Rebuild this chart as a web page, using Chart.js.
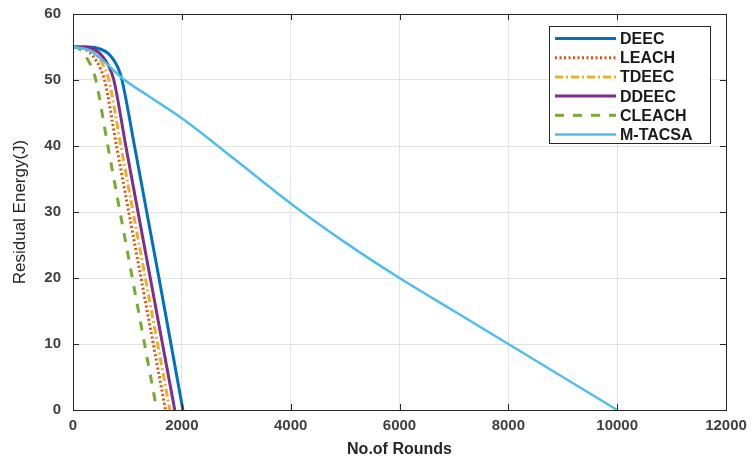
<!DOCTYPE html>
<html lang="en">
<head>
  <meta charset="UTF-8">
  <title>Residual Energy vs Rounds</title>
  <script src="https://cdn.jsdelivr.net/npm/chart.js"></script>
  <style>
    html, body { margin: 0; padding: 0; background: #fff; }
    #wrap { width: 755px; height: 459px; }
  </style>
</head>
<body>
  <div id="wrap"><canvas id="chartEnergy" width="755" height="459"></canvas></div>

  <script>
    // values: [round, residual energy J]
    const labels = ['DEEC', 'LEACH', 'TDEEC', 'DDEEC', 'CLEACH', 'M-TACSA'];
    const deec   = [[0,55],[300,55],[500,54.7],[650,54],[750,53],[830,51.8],[900,50],[1130,40],[1580,20],[2020,0]];
    const leach  = [[0,55],[150,54.9],[300,54.2],[420,53],[500,51.8],[580,50],[800,40],[1250,20],[1700,0]];
    const tdeec  = [[0,55],[200,54.9],[350,54.4],[480,53.3],[570,52],[660,50],[880,40],[1330,20],[1780,0]];
    const ddeec  = [[0,55],[250,55],[400,54.6],[550,53.5],[650,52.2],[750,50],[970,40],[1420,20],[1870,0]];
    const cleach = [[0,55],[100,54.8],[200,54],[290,52.8],[360,51.6],[420,50],[640,40],[1090,20],[1540,0]];
    const mtacsa = [[0,55],[300,54.5],[600,52.6],[900,50.3],[1400,47.5],[2000,44.2],[3000,37.8],[4000,31.3],[5000,25.4],[6000,20],[7000,15],[8000,10],[9000,5],[10000,0]];
    const xTicks = [0, 2000, 4000, 6000, 8000, 10000, 12000];
    const yTicks = [0, 10, 20, 30, 40, 50, 60];

    const colors = ['#0072BD', '#D95319', '#EDB120', '#7E2F8E', '#77AC30', '#4DBEEE'];
    const dashes = [[], [2, 2.5], [8, 3, 2, 3], [], [9, 9], []];
    const widths = [3, 3, 3, 3, 3, 2.5];
    const series = [deec, leach, tdeec, ddeec, cleach, mtacsa];

    const datasets = series.map((s, i) => ({
      label: labels[i],
      data: s.map(p => ({ x: p[0], y: p[1] })),
      borderColor: colors[i],
      borderDash: dashes[i],
      borderWidth: widths[i],
      pointRadius: 0,
      fill: false,
      cubicInterpolationMode: 'monotone',
      order: series.length - i
    }));

    // box round the plot with inward ticks, like matlab
    const boxPlugin = {
      id: 'box',
      afterDatasetsDraw(chart) {
        const { ctx, chartArea: a, scales } = chart;
        ctx.save();
        ctx.strokeStyle = '#262626';
        ctx.lineWidth = 1;
        ctx.strokeRect(a.left + 0.5, a.top + 0.5, a.right - a.left, a.bottom - a.top);
        ctx.beginPath();
        xTicks.forEach(v => {
          const px = Math.round(scales.x.getPixelForValue(v)) + 0.5;
          ctx.moveTo(px, a.bottom); ctx.lineTo(px, a.bottom - 6);
          ctx.moveTo(px, a.top); ctx.lineTo(px, a.top + 6);
        });
        yTicks.forEach(v => {
          const py = Math.round(scales.y.getPixelForValue(v)) + 0.5;
          ctx.moveTo(a.left, py); ctx.lineTo(a.left + 6, py);
          ctx.moveTo(a.right, py); ctx.lineTo(a.right - 6, py);
        });
        ctx.stroke();
        ctx.restore();
      }
    };

    // legend drawn inside the plot, top right
    const legendPlugin = {
      id: 'boxLegend',
      afterDraw(chart) {
        const ctx = chart.ctx;
        const x0 = 549, y0 = 26, w = 161, h = 117;
        ctx.save();
        ctx.fillStyle = '#fff';
        ctx.fillRect(x0, y0, w, h);
        ctx.strokeStyle = '#262626';
        ctx.lineWidth = 1;
        ctx.strokeRect(x0 + 0.5, y0 + 0.5, w, h);
        ctx.font = 'bold 16px "Liberation Sans", Arial, sans-serif';
        ctx.textBaseline = 'middle';
        chart.data.datasets.forEach((ds, i) => {
          const y = y0 + 12.5 + i * 19.2;
          ctx.beginPath();
          ctx.strokeStyle = ds.borderColor;
          ctx.lineWidth = ds.borderWidth;
          ctx.setLineDash(ds.borderDash);
          ctx.moveTo(555, y);
          ctx.lineTo(616, y);
          ctx.stroke();
          ctx.setLineDash([]);
          ctx.fillStyle = '#1a1a1a';
          ctx.fillText(ds.label, 620, y + 1);
        });
        ctx.restore();
      }
    };

    const tickFont = { family: '"Liberation Sans", Arial, sans-serif', size: 15, weight: 'bold' };

    new Chart(document.getElementById('chartEnergy'), {
      type: 'line',
      data: { datasets },
      options: {
        responsive: false,
        animation: false,
        layout: { padding: { left: 10, right: 29, top: 14, bottom: 0 } },
        plugins: { legend: { display: false }, tooltip: { enabled: false } },
        scales: {
          x: {
            type: 'linear',
            min: 0, max: 12000,
            afterBuildTicks: s => { s.ticks = xTicks.map(v => ({ value: v })); },
            afterFit: s => { s.height = 49; s.paddingLeft = 0; s.paddingRight = 0; },
            grid: { color: '#e3e3e3', drawTicks: false },
            border: { display: false },
            ticks: { font: tickFont, color: '#404040', padding: 7, maxRotation: 0, callback: v => String(v) },
            title: {
              display: true, text: 'No.of Rounds', color: '#262626',
              font: { family: '"Liberation Sans", Arial, sans-serif', size: 16, weight: 'bold' },
              padding: { top: 1, bottom: 0 }
            }
          },
          y: {
            min: 0, max: 60,
            afterBuildTicks: s => { s.ticks = yTicks.map(v => ({ value: v })); },
            afterFit: s => { s.width = 63; s.paddingTop = 0; s.paddingBottom = 0; },
            grid: { color: '#e3e3e3', drawTicks: false },
            border: { display: false },
            ticks: { font: tickFont, color: '#404040', padding: 12, callback: v => String(v) },
            title: {
              display: true, text: 'Residual Energy(J)', color: '#262626',
              font: { family: '"Liberation Sans", Arial, sans-serif', size: 17 },
              padding: { top: 0, bottom: 0 }
            }
          }
        }
      },
      plugins: [boxPlugin, legendPlugin]
    });
  </script>
</body>
</html>
